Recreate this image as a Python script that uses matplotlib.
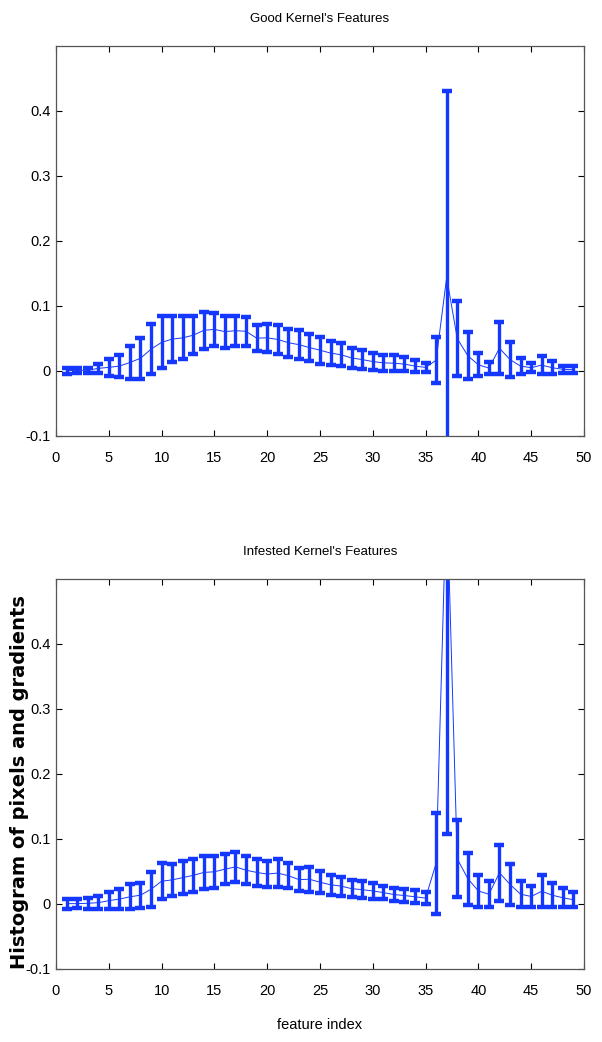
import numpy as np
import matplotlib
matplotlib.use("Agg")
import matplotlib.pyplot as plt

plt.rcParams['font.family'] = ['Liberation Sans Narrow', 'Liberation Sans', 'DejaVu Sans']

idx = np.arange(1, 50)

good_mean = [0.0005, 0.001, 0.001, 0.004, 0.0055, 0.0075, 0.013, 0.0195, 0.0335, 0.044,
             0.049, 0.051, 0.055, 0.0625, 0.064, 0.0605, 0.062, 0.061, 0.0505, 0.051,
             0.0485, 0.0435, 0.0405, 0.036, 0.032, 0.0275, 0.025, 0.020, 0.0175, 0.0145,
             0.0125, 0.012, 0.0105, 0.0075, 0.0055, 0.0165, 0.144, 0.050, 0.0235, 0.0095,
             0.0045, 0.035, 0.0175, 0.0075, 0.005, 0.009, 0.005, 0.0025, 0.002]
good_std = [0.0045, 0.004, 0.004, 0.007, 0.0125, 0.0165, 0.025, 0.0315, 0.0385, 0.040,
            0.035, 0.033, 0.029, 0.0285, 0.025, 0.0245, 0.023, 0.022, 0.0205, 0.022,
            0.0225, 0.0215, 0.0225, 0.021, 0.021, 0.0185, 0.018, 0.016, 0.0145, 0.0135,
            0.0125, 0.012, 0.0105, 0.0095, 0.0075, 0.0355, 0.287, 0.058, 0.0365, 0.0175,
            0.0095, 0.040, 0.0265, 0.0125, 0.007, 0.014, 0.010, 0.0055, 0.005]

bad_mean = [0.0005, 0.0005, 0.001, 0.002, 0.005, 0.0075, 0.011, 0.0135, 0.0225, 0.035,
            0.037, 0.0405, 0.044, 0.0485, 0.0495, 0.0535, 0.057, 0.052, 0.0485, 0.046,
            0.0475, 0.0435, 0.0375, 0.038, 0.0335, 0.0295, 0.0275, 0.0235, 0.022, 0.020,
            0.0175, 0.0145, 0.013, 0.011, 0.009, 0.0625, 0.64, 0.0695, 0.039, 0.020,
            0.015, 0.048, 0.030, 0.015, 0.0115, 0.0195, 0.0135, 0.0095, 0.0065]
bad_std = [0.0075, 0.0065, 0.008, 0.010, 0.013, 0.0155, 0.019, 0.0195, 0.0265, 0.028,
           0.024, 0.0255, 0.025, 0.0255, 0.0245, 0.0235, 0.023, 0.022, 0.0205, 0.020,
           0.0215, 0.0195, 0.0175, 0.019, 0.0165, 0.0155, 0.0145, 0.0135, 0.013, 0.012,
           0.0105, 0.0105, 0.010, 0.010, 0.009, 0.0775, 0.533, 0.0595, 0.040, 0.025,
           0.020, 0.043, 0.031, 0.020, 0.0165, 0.0245, 0.0185, 0.0145, 0.0115]

blue = "#1438ff"
fig = plt.figure(figsize=(6.02, 10.42), dpi=100)
ax1 = fig.add_axes([0.093, 0.5816, 0.877, 0.3743])
ax2 = fig.add_axes([0.093, 0.0701, 0.877, 0.3743])

for ax, m, s, title in [(ax1, good_mean, good_std, "Good Kernel's Features"),
                        (ax2, bad_mean, bad_std, "Infested Kernel's Features")]:
    ax.errorbar(idx, m, yerr=s, color=blue, lw=0.7, elinewidth=2.4,
                capsize=3.9, capthick=3.2, ecolor=blue)
    ax.set_xlim(0, 50)
    ax.set_ylim(-0.1, 0.5)
    ax.set_xticks(range(0, 51, 5))
    ax.set_yticks([-0.1, 0, 0.1, 0.2, 0.3, 0.4])
    ax.set_yticklabels(["-0.1", "0", "0.1", "0.2", "0.3", "0.4"])
    ax.tick_params(direction="in", top=True, right=True, length=4, labelsize=10.5, width=0.8)
    ax.tick_params(axis="x", pad=11)
    for sp in ax.spines.values():
        sp.set_color("#555555")
        sp.set_linewidth(0.9)
    ax.set_title(title, fontsize=9.5, pad=17)

ax2.set_xlabel("feature index", fontsize=10.5, labelpad=14)
ax2.set_ylabel("Histogram of pixels and gradients", fontsize=14, fontweight="bold",
               family="DejaVu Sans")
ax2.yaxis.set_label_coords(-0.052, 0.48)

plt.savefig("out.png", dpi=100)
